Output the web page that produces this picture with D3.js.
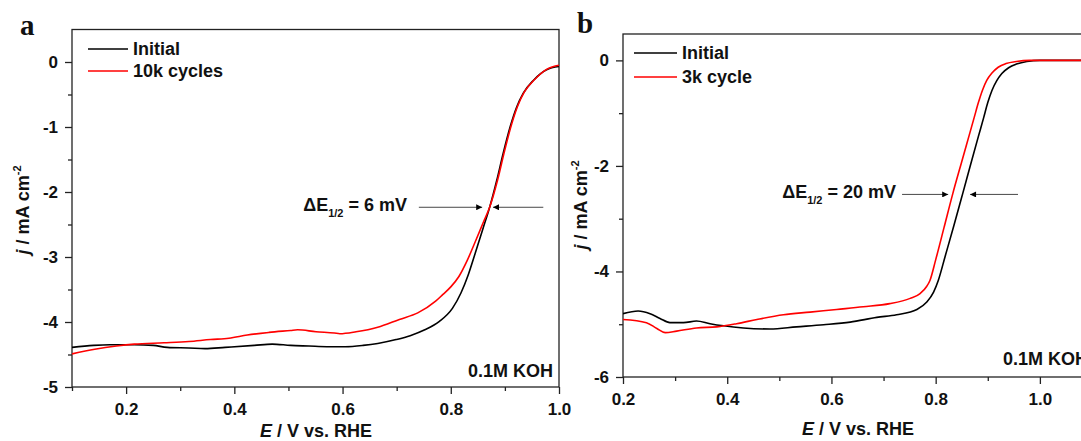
<!DOCTYPE html>
<html><head><meta charset="utf-8">
<script src="https://cdn.jsdelivr.net/npm/d3@7"></script>
<style>
body{margin:0;background:#fff}
svg text{font-family:"Liberation Sans",Arial,sans-serif;font-weight:bold;fill:#111}
</style></head><body>
<svg id="c" width="1081" height="441"></svg>
<script>
// ---------- Data (panel a) ----------
const aE_initial = [0.10,0.14,0.17,0.215,0.25,0.276,0.316,0.346,0.383,0.437,0.47,0.504,0.538,0.571,0.605,0.638,0.665,0.699,0.725,0.752,0.779,0.803,0.819,0.832,0.846,0.86,0.872,0.885,0.897,0.91,0.922,0.934,0.953,0.977,1.0];
const aJ_initial = [-4.39,-4.36,-4.35,-4.35,-4.36,-4.39,-4.40,-4.41,-4.39,-4.36,-4.34,-4.36,-4.37,-4.38,-4.38,-4.36,-4.33,-4.27,-4.21,-4.12,-3.99,-3.79,-3.55,-3.28,-2.92,-2.55,-2.23,-1.82,-1.40,-0.99,-0.69,-0.48,-0.28,-0.12,-0.07];
const aE_cycled = [0.10,0.142,0.182,0.215,0.27,0.316,0.356,0.39,0.424,0.464,0.504,0.517,0.551,0.585,0.595,0.625,0.665,0.705,0.739,0.772,0.785,0.80,0.815,0.83,0.846,0.86,0.872,0.887,0.899,0.912,0.924,0.936,0.955,0.978,1.0];
const aJ_cycled = [-4.49,-4.42,-4.37,-4.34,-4.32,-4.30,-4.27,-4.25,-4.20,-4.16,-4.13,-4.12,-4.15,-4.17,-4.18,-4.15,-4.08,-3.96,-3.86,-3.68,-3.58,-3.46,-3.30,-3.06,-2.75,-2.47,-2.23,-1.80,-1.38,-0.97,-0.67,-0.46,-0.27,-0.11,-0.05];
const aXTicks = [0.2,0.4,0.6,0.8,1.0];
const aYTicks = [0,-1,-2,-3,-4,-5];
const aLegend = ["Initial","10k cycles"];
const aDelta = "6 mV";
const aArrowE = [0.741,0.858,0.971,0.878]; // left tail, left tip, right tail, right tip
const aArrowJ = -2.235;

// ---------- Data (panel b) ----------
const bE_initial = [0.2,0.229,0.252,0.271,0.29,0.316,0.341,0.367,0.393,0.431,0.482,0.533,0.585,0.636,0.687,0.725,0.764,0.783,0.796,0.805,0.818,0.835,0.852,0.868,0.882,0.892,0.90,0.908,0.917,0.927,0.94,0.955,0.975,1.0,1.1];
const bJ_initial = [-4.80,-4.75,-4.80,-4.89,-4.97,-4.97,-4.94,-4.99,-5.03,-5.07,-5.09,-5.05,-5.01,-4.96,-4.87,-4.82,-4.72,-4.58,-4.39,-4.17,-3.72,-3.13,-2.52,-1.94,-1.44,-1.09,-0.80,-0.57,-0.39,-0.25,-0.14,-0.07,-0.02,0,0];
const bE_cycled = [0.2,0.245,0.265,0.281,0.303,0.341,0.38,0.418,0.457,0.508,0.559,0.61,0.661,0.712,0.751,0.77,0.783,0.789,0.80,0.816,0.833,0.85,0.864,0.874,0.882,0.89,0.898,0.908,0.92,0.935,0.955,0.98,1.1];
const bJ_cycled = [-4.91,-4.97,-5.08,-5.16,-5.13,-5.07,-5.05,-4.99,-4.91,-4.82,-4.77,-4.72,-4.67,-4.61,-4.51,-4.42,-4.28,-4.17,-3.78,-3.17,-2.52,-1.92,-1.43,-1.08,-0.80,-0.56,-0.38,-0.24,-0.13,-0.06,-0.02,0,0];
const bXTicks = [0.2,0.4,0.6,0.8,1.0];
const bYTicks = [0,-2,-4,-6];
const bLegend = ["Initial","3k cycle"];
const bDelta = "20 mV";
const bArrowE = [0.7355,0.824,0.958,0.866];
const bArrowJ = -2.54;

const svg = d3.select("#c");
const defs = svg.append("defs");
defs.append("marker").attr("id","ah").attr("viewBox","0 0 10 10").attr("refX",10).attr("refY",5)
  .attr("markerWidth",9).attr("markerHeight",6).attr("markerUnits","userSpaceOnUse").attr("orient","auto")
  .append("path").attr("d","M0,0L10,5L0,10z").attr("fill","#000");

const fmtY = d => String(d);
const fmtX = d => d.toFixed(1);

function panel(o){
  const g = svg.append("g");
  const x = d3.scaleLinear().domain(o.xDom).range([o.L,o.R]);
  const y = d3.scaleLinear().domain(o.yDom).range([o.B,o.T]);
  g.append("rect").attr("x",o.L).attr("y",o.T).attr("width",o.R-o.L).attr("height",o.B-o.T)
    .attr("fill","none").attr("stroke","#222").attr("stroke-width",1.3);
  const xa = g.append("g").attr("transform",`translate(0,${o.B})`)
    .call(d3.axisBottom(x).tickValues(o.xMinor).tickSize(4).tickFormat(""));
  xa.select(".domain").remove();
  const xb = g.append("g").attr("transform",`translate(0,${o.B})`)
    .call(d3.axisBottom(x).tickValues(o.xTicks).tickSize(7).tickPadding(9).tickFormat(fmtX));
  xb.select(".domain").remove();
  xb.selectAll("text").style("font-size","17px").attr("fill","#111");
  const ya = g.append("g").attr("transform",`translate(${o.L},0)`)
    .call(d3.axisLeft(y).tickValues(o.yMinor).tickSize(4).tickFormat(""));
  ya.select(".domain").remove();
  const yb = g.append("g").attr("transform",`translate(${o.L},0)`)
    .call(d3.axisLeft(y).tickValues(o.yTicks).tickSize(7).tickPadding(7).tickFormat(fmtY));
  yb.select(".domain").remove();
  yb.selectAll("text").style("font-size","17px").attr("fill","#111");
  g.selectAll(".tick line").attr("stroke","#222").attr("stroke-width",1.3);

  const cid = "clip"+o.id;
  defs.append("clipPath").attr("id",cid).append("rect")
    .attr("x",o.L).attr("y",o.T).attr("width",o.R-o.L).attr("height",o.B-o.T);
  const line = d3.line().x(d=>x(d[0])).y(d=>y(d[1])).curve(d3.curveMonotoneX);
  const series = [
    {E:o.E1,J:o.J1,c:"#000"},
    {E:o.E2,J:o.J2,c:"#ff0000"}
  ];
  g.append("g").attr("clip-path",`url(#${cid})`).selectAll("path").data(series).join("path")
    .attr("d",s=>line(s.E.map((e,i)=>[e,s.J[i]])))
    .attr("fill","none").attr("stroke",s=>s.c).attr("stroke-width",1.6);

  o.legend.forEach((t,i)=>{
    const ly = o.legY + i*o.legDy;
    g.append("line").attr("x1",o.legX).attr("x2",o.legX+o.legW).attr("y1",ly).attr("y2",ly)
      .attr("stroke",series[i].c).attr("stroke-width",1.6);
    g.append("text").attr("x",o.legX+o.legW+5).attr("y",ly+6).style("font-size","18px").text(t);
  });

  const ay = y(o.arrJ);
  g.append("line").attr("x1",x(o.arrE[0])).attr("x2",x(o.arrE[1])).attr("y1",ay).attr("y2",ay)
    .attr("stroke","#333").attr("stroke-width",0.9).attr("marker-end","url(#ah)");
  g.append("line").attr("x1",x(o.arrE[2])).attr("x2",x(o.arrE[3])).attr("y1",ay).attr("y2",ay)
    .attr("stroke","#333").attr("stroke-width",0.9).attr("marker-end","url(#ah)");
  const at = g.append("text").attr("x",o.annX).attr("y",ay+4).attr("text-anchor","end").style("font-size","18px");
  at.append("tspan").text("ΔE");
  at.append("tspan").attr("dy",6).style("font-size","11px").text("1/2");
  at.append("tspan").attr("dy",-6).text(" = "+o.delta);

  g.append("text").attr("x",o.kohX).attr("y",o.kohY).attr("text-anchor",o.kohAnchor).style("font-size","18px").text("0.1M KOH");

  const xt = g.append("text").attr("x",o.xtX).attr("y",o.xtY).attr("text-anchor","middle").style("font-size","18px");
  xt.append("tspan").style("font-style","italic").text("E");
  xt.append("tspan").text(" / V vs. RHE");
  const yt = g.append("text").attr("transform",`translate(${o.ytX},${o.ytY}) rotate(-90)`).attr("text-anchor","middle").style("font-size","18px");
  yt.append("tspan").style("font-style","italic").text("j");
  yt.append("tspan").text(" / mA cm");
  yt.append("tspan").attr("dy",-8).style("font-size","11px").text("-2");

  svg.append("text").attr("x",o.letX).attr("y",o.letY)
    .style("font-family","'Liberation Serif','Times New Roman',serif").style("font-size","29px").style("font-weight","bold")
    .text(o.letter);
}

panel({id:"a",L:72,R:559,T:29.5,B:387,xDom:[0.1,1.0],yDom:[-5,0.5],
  xTicks:aXTicks,xMinor:[0.1,0.3,0.5,0.7,0.9],yTicks:aYTicks,yMinor:[-0.5,-1.5,-2.5,-3.5,-4.5],
  E1:aE_initial,J1:aJ_initial,E2:aE_cycled,J2:aJ_cycled,
  legend:aLegend,legX:88,legW:40,legY:49,legDy:22,
  arrE:aArrowE,arrJ:aArrowJ,annX:407,delta:aDelta,
  kohX:553,kohY:377,kohAnchor:"end",
  xtX:316,xtY:437,ytX:29,ytY:210,letter:"a",letX:20,letY:35});

panel({id:"b",L:623,R:1092,T:34,B:377,xDom:[0.2,1.1],yDom:[-6,0.5],
  xTicks:bXTicks,xMinor:[0.3,0.5,0.7,0.9,1.1],yTicks:bYTicks,yMinor:[-1,-3,-5],
  E1:bE_initial,J1:bJ_initial,E2:bE_cycled,J2:bJ_cycled,
  legend:bLegend,legX:634,legW:43,legY:53,legDy:24,
  arrE:bArrowE,arrJ:bArrowJ,annX:896,delta:bDelta,
  kohX:1003,kohY:365,kohAnchor:"start",
  xtX:858,xtY:435,ytX:587,ytY:205,letter:"b",letX:577,letY:33});
</script>
</body></html>
